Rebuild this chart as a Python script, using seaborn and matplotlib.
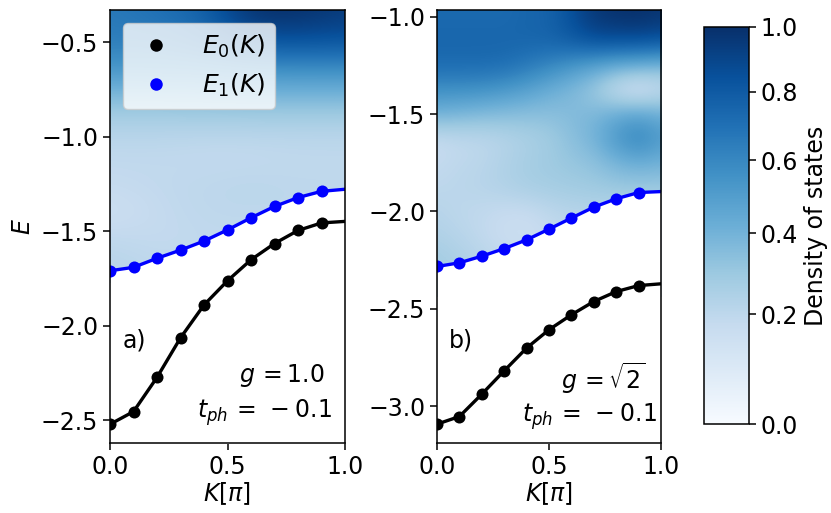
import numpy as np
import pandas as pd
import matplotlib
matplotlib.use("Agg")
import matplotlib.pyplot as plt
from matplotlib.colors import PowerNorm
from matplotlib.lines import Line2D
from matplotlib.legend_handler import HandlerLine2D
import seaborn as sns

# ---------------- data ----------------
K_dots = [0.0, 0.1, 0.2, 0.3, 0.4, 0.5, 0.6, 0.7, 0.8, 0.9]
K_line = [0.0, 0.1, 0.2, 0.3, 0.4, 0.5, 0.6, 0.7, 0.8, 0.9, 1.0]

# panel a (g = 1.0)
E0_a = [-2.521, -2.454, -2.273, -2.064, -1.890, -1.762, -1.651, -1.565, -1.496, -1.456, -1.448]
E1_a = [-1.709, -1.691, -1.643, -1.600, -1.552, -1.493, -1.429, -1.369, -1.322, -1.289, -1.278]
# panel b (g = sqrt 2)
E0_b = [-3.093, -3.054, -2.939, -2.819, -2.702, -2.608, -2.531, -2.463, -2.412, -2.381, -2.372]
E1_b = [-2.283, -2.264, -2.230, -2.191, -2.146, -2.091, -2.034, -1.978, -1.935, -1.903, -1.898]

# density of states grids (rows: energies, cols: K)
dos_K_a = [0.0, 0.2, 0.4, 0.6, 0.8, 1.0]
dos_E_a = [-0.35, -0.50, -0.65, -0.80, -0.95, -1.10, -1.25, -1.40, -1.55, -1.70]
dos_a = [
    [0.66, 0.70, 0.76, 1.00, 1.00, 0.94],
    [0.64, 0.64, 0.70, 0.83, 0.84, 0.83],
    [0.53, 0.53, 0.53, 0.55, 0.56, 0.56],
    [0.35, 0.35, 0.36, 0.37, 0.37, 0.37],
    [0.23, 0.23, 0.23, 0.23, 0.23, 0.23],
    [0.19, 0.19, 0.18, 0.18, 0.19, 0.19],
    [0.18, 0.19, 0.20, 0.21, 0.20, 0.20],
    [0.14, 0.18, 0.20, 0.20, 0.20, 0.20],
    [0.20, 0.18, 0.19, 0.19, 0.19, 0.19],
    [0.22, 0.20, 0.20, 0.20, 0.20, 0.20],
]
dos_K_b = [0.0, 0.1, 0.2, 0.3, 0.4, 0.5, 0.6, 0.7, 0.8, 0.9, 1.0]
dos_E_b = [-1.0, -1.125, -1.25, -1.375, -1.5, -1.625, -1.75, -1.875, -2.0, -2.125, -2.25, -2.375]
dos_b = [
    [0.73, 0.73, 0.73, 0.73, 0.75, 0.76, 0.85, 0.96, 0.99, 1.00, 0.97],
    [0.75, 0.75, 0.75, 0.75, 0.75, 0.76, 0.80, 0.85, 0.85, 0.85, 0.83],
    [0.72, 0.72, 0.72, 0.71, 0.66, 0.60, 0.53, 0.47, 0.42, 0.40, 0.37],
    [0.56, 0.56, 0.55, 0.52, 0.48, 0.42, 0.37, 0.29, 0.15, 0.09, 0.17],
    [0.40, 0.38, 0.36, 0.35, 0.34, 0.34, 0.36, 0.38, 0.44, 0.47, 0.42],
    [0.17, 0.19, 0.20, 0.22, 0.25, 0.28, 0.34, 0.40, 0.53, 0.62, 0.51],
    [0.18, 0.20, 0.21, 0.24, 0.27, 0.29, 0.31, 0.33, 0.39, 0.42, 0.40],
    [0.20, 0.21, 0.22, 0.24, 0.26, 0.27, 0.28, 0.29, 0.30, 0.30, 0.30],
    [0.22, 0.20, 0.19, 0.17, 0.17, 0.20, 0.22, 0.22, 0.22, 0.22, 0.22],
    [0.24, 0.22, 0.19, 0.16, 0.15, 0.18, 0.20, 0.20, 0.20, 0.20, 0.20],
    [0.28, 0.25, 0.22, 0.20, 0.18, 0.18, 0.18, 0.18, 0.18, 0.18, 0.18],
    [0.28, 0.26, 0.22, 0.20, 0.18, 0.18, 0.18, 0.18, 0.18, 0.18, 0.18],
]

ylim_a = (-2.62, -0.33)
ylim_b = (-3.19, -0.965)
yticks_a = [-2.5, -2.0, -1.5, -1.0, -0.5]
yticks_b = [-3.0, -2.5, -2.0, -1.5, -1.0]
xticks = [0.0, 0.5, 1.0]
cbar_ticks = [0.0, 0.2, 0.4, 0.6, 0.8, 1.0]
legend_labels = ["$E_0(K)$", "$E_1(K)$"]

# ---------------- style ----------------
sns.set_style("ticks", rc={
    "axes.edgecolor": "black", "xtick.color": "black", "ytick.color": "black",
    "axes.labelcolor": "black", "text.color": "black",
    "xtick.direction": "out", "ytick.direction": "out",
})
FS = 17
plt.rcParams.update({
    "font.family": ["DejaVu Sans"],
    "font.size": FS, "axes.labelsize": FS,
    "xtick.labelsize": FS, "ytick.labelsize": FS, "legend.fontsize": FS,
    "xtick.major.size": 5, "ytick.major.size": 5,
    "xtick.major.width": 1.1, "ytick.major.width": 1.1,
    "axes.linewidth": 1.1, "mathtext.fontset": "dejavusans",
})

fig = plt.figure(figsize=(8.31, 5.13), dpi=100)
W, H = 831, 513
def px_axes(l, t, r, b):
    return fig.add_axes([l / W, 1 - b / H, (r - l) / W, (b - t) / H])

ax_a = px_axes(110, 10, 345, 443)
ax_b = px_axes(437, 10, 661, 443)
cax = px_axes(704, 27, 749, 424)

norm = PowerNorm(gamma=0.8, vmin=0.0, vmax=1.0)

def panel(ax, dosK, dosE, dos, E0, E1, ylim, yticks, tag, gtxt, gpos, tpos):
    dK = dosK[1] - dosK[0]
    dE = abs(dosE[1] - dosE[0])
    im = ax.imshow(np.array(dos), cmap="Blues", norm=norm, aspect="auto",
                   interpolation="bicubic", origin="upper",
                   extent=[dosK[0] - dK / 2, dosK[-1] + dK / 2,
                           dosE[-1] - dE / 2, dosE[0] + dE / 2], zorder=0)
    ax.fill_between(K_line, E1, ylim[0] - 1, color="white", zorder=1, lw=0)
    sns.lineplot(x=K_line, y=E0, color="black", lw=2.4, ax=ax, zorder=3)
    sns.lineplot(x=K_line, y=E1, color="blue", lw=2.4, ax=ax, zorder=3)
    sns.scatterplot(x=K_dots, y=E0[:len(K_dots)], color="black", s=75,
                    linewidth=0, ax=ax, zorder=4)
    sns.scatterplot(x=K_dots, y=E1[:len(K_dots)], color="blue", s=75,
                    linewidth=0, ax=ax, zorder=4)
    ax.set_xlim(0, 1)
    ax.set_ylim(*ylim)
    ax.set_xticks(xticks)
    ax.set_xticklabels([f"{t:.1f}" for t in xticks])
    ax.set_yticks(yticks)
    ax.set_yticklabels([f"{t:.1f}".replace("-", "\u2212") for t in yticks])
    ax.set_xlabel(r"$K[\pi]$", labelpad=1)
    ax.text(0.055, 0.237, tag, transform=ax.transAxes, ha="left", va="center", fontsize=FS)
    ax.text(gpos[0], gpos[1], gtxt, transform=ax.transAxes, ha="right", va="center", fontsize=FS)
    ax.text(tpos[0], tpos[1], r"$t_{ph}\,=\,\:-\:0.1$", transform=ax.transAxes,
            ha="right", va="center", fontsize=FS)
    for s in ax.spines.values():
        s.set_zorder(5)
    return im

im = panel(ax_a, dos_K_a, dos_E_a, dos_a, E0_a, E1_a, ylim_a, yticks_a, "a)",
           r"$g\,=1.0$", (0.915, 0.157), (0.945, 0.069))
panel(ax_b, dos_K_b, dos_E_b, dos_b, E0_b, E1_b, ylim_b, yticks_b, "b)",
      r"$g\,=\sqrt{2}$", (0.93, 0.15), (0.98, 0.06))

ax_a.set_ylabel("$E$")
handles = [Line2D([], [], ls="none", marker="o", ms=9, mec="none", color=c)
           for c in ["black", "blue"]]
HL = 1.84
ax_a.legend(handles, legend_labels, loc="upper left", frameon=True,
            handlelength=HL, handletextpad=0.92, fontsize=18, numpoints=1,
            handler_map={Line2D: HandlerLine2D(numpoints=1)})

cb = fig.colorbar(im, cax=cax)
cb.set_ticks(cbar_ticks)
cb.set_ticklabels([f"{t:.1f}" for t in cbar_ticks])
cb.set_label("Density of states", fontsize=FS)
cb.outline.set_linewidth(1.1)

fig.savefig("out.png", dpi=100)
